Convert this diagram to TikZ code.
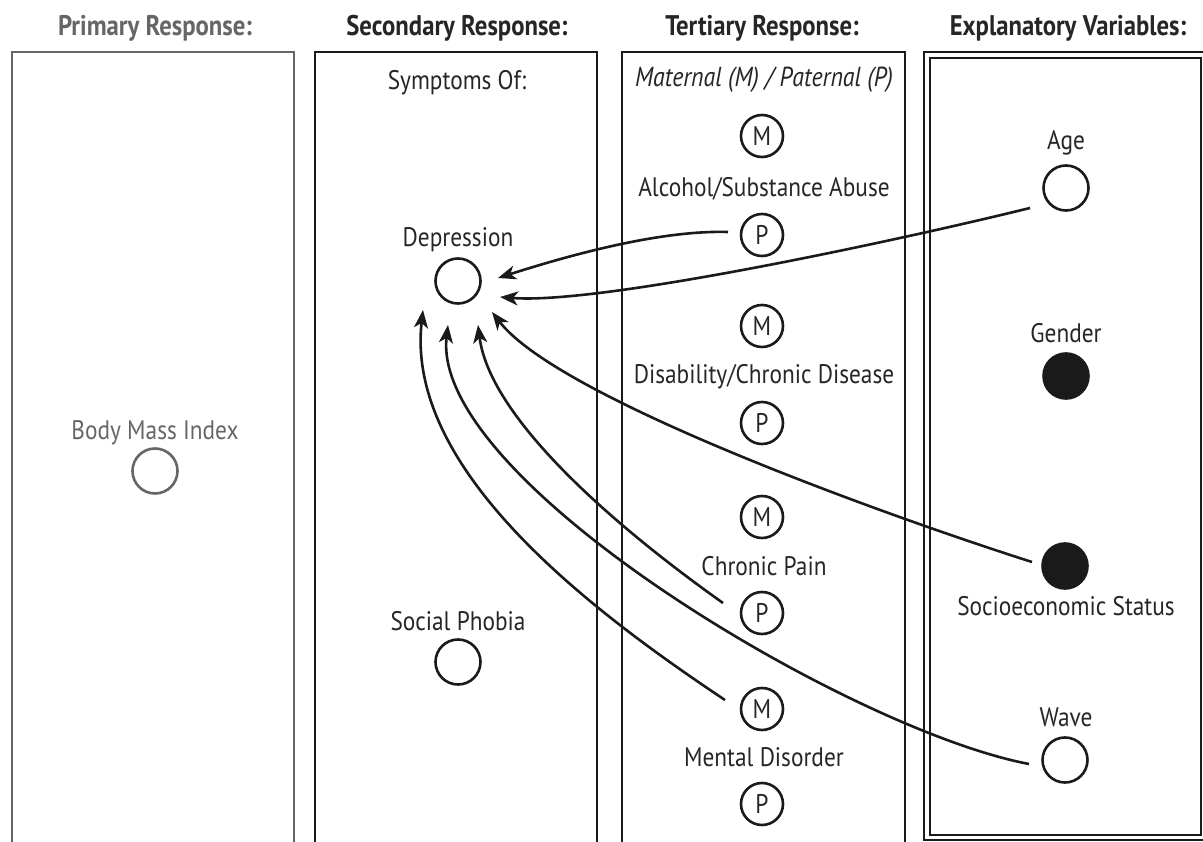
\documentclass[tikz,border=0pt]{standalone}
\usepackage{fontspec}
\setmainfont{PT Sans}[FakeStretch=0.87]
\usetikzlibrary{arrows.meta}
\definecolor{ink}{HTML}{1A1A1A}
\definecolor{txt}{HTML}{262626}
\definecolor{grayink}{HTML}{666666}
\begin{document}
\begin{tikzpicture}[x=1pt,y=-1pt,
  lbl/.style={font=\fontsize{26.8}{28}\selectfont, text=txt, inner sep=0pt},
  ttl/.style={font=\fontsize{28.4}{30}\selectfont\bfseries, text=txt, inner sep=0pt},
  var/.style={circle, draw=ink, line width=2.6pt, minimum size=45pt, inner sep=0pt},
  mp/.style={circle, draw=ink, line width=2.6pt, minimum size=42pt, inner sep=0pt, font=\fontsize{27}{28}\selectfont, text=txt},
  fvar/.style={var, fill=ink},
  panel/.style={draw=ink, line width=2.5pt},
  arr/.style={-{Stealth[length=18pt,width=14pt,inset=5pt]}, line width=2.6pt, draw=ink}]
\useasboundingbox (0,0) rectangle (1203,842);
\fill[white] (0,0) rectangle (1203,842);

% titles
\node[ttl, text=grayink] (t1) at (155,28) {Primary Response:};
\node[ttl] (t2) at (457,28) {Secondary Response:};
\node[ttl] (t3) at (762,28) {Tertiary Response:};
\node[ttl] (t4) at (1068,28) {Explanatory Variables:};

% panels
\draw[panel, draw=grayink] (12,845) -- (12,52) -- (294,52) -- (294,845);
\draw[panel] (315,845) -- (315,52) -- (597,52) -- (597,845);
\draw[panel] (622,845) -- (622,52) -- (905,52) -- (905,845);
\draw[panel] (924,840) rectangle (1209,52);
\draw[panel] (930,835) rectangle (1201,58);

% primary
\node[lbl, text=grayink] (bmiL) at (155,433) {Body Mass Index};
\node[var, draw=grayink] (bmi) at (155,471) {};

% secondary
\node[lbl] (symp) at (457,83) {Symptoms Of:};
\node[lbl] (depL) at (458,240) {Depression};
\node[var] (dep) at (458,281) {};
\node[lbl] (socL) at (458,621) {Social Phobia};
\node[var] (soc) at (458,662) {};

% tertiary
\node[lbl, font=\fontsize{27.5}{29}\selectfont\itshape] (mat) at (764,80) {Maternal (M) / Paternal (P)};
\node[mp] (m1) at (762,136) {M};
\node[lbl] (aL) at (764,189) {Alcohol/Substance Abuse};
\node[mp] (p1) at (762,235) {P};
\node[mp] (m2) at (762,326) {M};
\node[lbl] (dL) at (764,377) {Disability/Chronic Disease};
\node[mp] (p2) at (762,423) {P};
\node[mp] (m3) at (762,517) {M};
\node[lbl] (cL) at (764,566) {Chronic Pain};
\node[mp] (p3) at (762,613) {P};
\node[mp] (m4) at (762,709) {M};
\node[lbl] (mL) at (764,757) {Mental Disorder};
\node[mp] (p4) at (762,804) {P};

% explanatory
\node[lbl] (ageL) at (1066,143) {Age};
\node[var] (age) at (1066,188) {};
\node[lbl] (genL) at (1066,333) {Gender};
\node[fvar] (gen) at (1066,376) {};
\node[fvar] (ses) at (1065,566) {};
\node[lbl] (sesL) at (1066,606) {Socioeconomic Status};
\node[lbl] (wavL) at (1066,717) {Wave};
\node[var] (wav) at (1065,760) {};

% arrows
\draw[arr] ([shift={(-34,-3)}]p1.center) .. controls (660,230) and (570,255) .. ([shift={(40,-3)}]dep.center);
\draw[arr] ([shift={(-36,20)}]age.center) .. controls (900,240) and (600,305) .. ([shift={(42,16)}]dep.center);
\draw[arr] ([shift={(-33,-4)}]ses.center) .. controls (900,520) and (560,400) .. ([shift={(34,31)}]dep.center);
\draw[arr] ([shift={(-39,-10)}]p3.center) .. controls (620,530) and (490,420) .. ([shift={(20,44)}]dep.center);
\draw[arr] ([shift={(-37,-9)}]m4.center) .. controls (590,610) and (405,470) .. ([shift={(-35,29)}]dep.center);
\draw[arr] ([shift={(-36,4)}]wav.center) .. controls (850,730) and (430,480) .. ([shift={(-10,44)}]dep.center);
\end{tikzpicture}
\end{document}
